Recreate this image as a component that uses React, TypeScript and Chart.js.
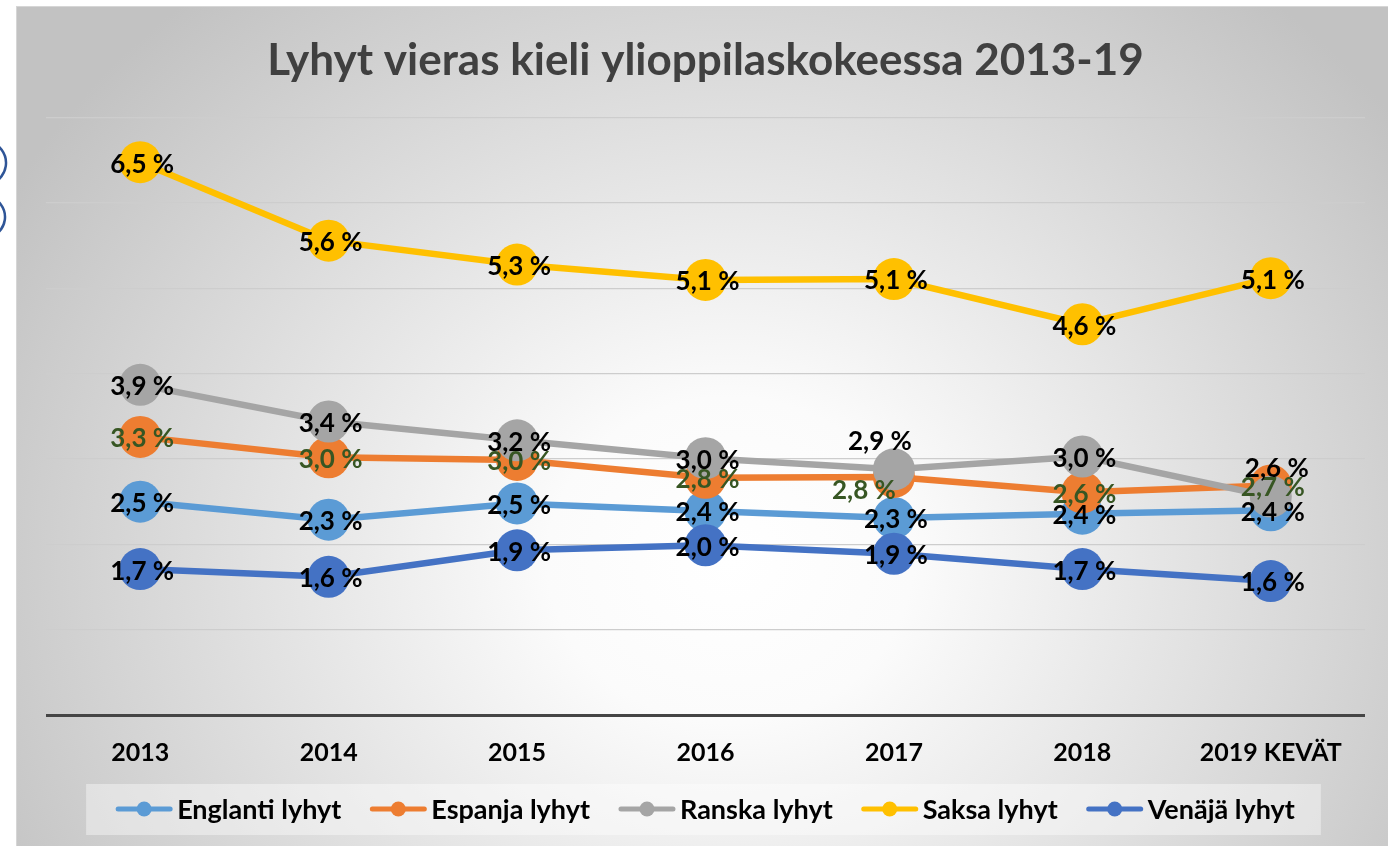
import React, { useEffect, useRef } from 'react';
import { Chart, registerables } from 'chart.js';

Chart.register(...registerables);

// ---------- data ----------
const chartTitle = 'Lyhyt vieras kieli ylioppilaskokeessa 2013-19';
const categories = ['2013', '2014', '2015', '2016', '2017', '2018', '2019 KEVÄT'];
const seriesNames = ['Englanti lyhyt', 'Espanja lyhyt', 'Ranska lyhyt', 'Saksa lyhyt', 'Venäjä lyhyt'];
const englanti = [2.5, 2.29, 2.48, 2.39, 2.31, 2.36, 2.4];
const espanja = [3.26, 3.02, 2.99, 2.78, 2.79, 2.61, 2.69];
const ranska = [3.87, 3.44, 3.22, 3.01, 2.88, 3.03, 2.56];
const saksa = [6.48, 5.56, 5.28, 5.1, 5.11, 4.58, 5.12];
const venaja = [1.71, 1.62, 1.93, 1.99, 1.89, 1.71, 1.57];
const yTicks = [0, 1, 2, 3, 4, 5, 6, 7];

// ---------- styles ----------
const seriesValues = [englanti, espanja, ranska, saksa, venaja];
const COLORS = ['#5B9BD5', '#ED7D31', '#A5A5A5', '#FFC000', '#4472C4'];
const LABEL_COLORS = ['#000000', '#375623', '#000000', '#000000', '#000000'];
const FONT = "Lato, 'Open Sans', sans-serif";
// manual label nudges (series-point) in px, as in the original
const LABEL_SHIFT: Record<string, [number, number]> = {
  '2-4': [-16, -30],
  '2-6': [4, -30],
  '1-4': [-32, 12],
};

const fmt = (v: number) => v.toFixed(1).replace('.', ',') + ' %';

const backgroundPlugin = {
  id: 'bgPlugin',
  beforeDraw(chart: any) {
    const { ctx, width, height } = chart;
    ctx.save();
    ctx.fillStyle = '#ffffff';
    ctx.fillRect(0, 0, width, height);
    const bx = 16;
    const by = 6;
    const cx = 730;
    const cy = 560;
    const rx = 830;
    const ry = 740;
    ctx.save();
    ctx.beginPath();
    ctx.rect(bx, by, width - bx, height - by);
    ctx.clip();
    ctx.translate(cx, cy);
    ctx.scale(1, ry / rx);
    const g = ctx.createRadialGradient(0, 0, 0, 0, 0, rx);
    g.addColorStop(0, '#ffffff');
    g.addColorStop(0.22, '#fbfbfb');
    g.addColorStop(1, '#c2c2c2');
    ctx.fillStyle = g;
    ctx.fillRect(-cx - 50, -(cy + 50) * (rx / ry), width + 100, (height + 100) * (rx / ry));
    ctx.restore();
    ctx.strokeStyle = '#d6d6d6';
    ctx.lineWidth = 1;
    ctx.strokeRect(bx + 0.5, by + 0.5, width - bx, height - by);
    // fragments of neighbouring slide shapes at the left edge
    ctx.strokeStyle = '#2f5597';
    ctx.lineWidth = 2.5;
    ctx.beginPath();
    ctx.arc(-16, 163, 22, -Math.PI / 2.2, Math.PI / 2.2);
    ctx.stroke();
    ctx.beginPath();
    ctx.arc(-16, 217, 21, -Math.PI / 2.2, Math.PI / 2.2);
    ctx.stroke();
    ctx.restore();
  },
};

const labelPlugin = {
  id: 'valueLabels',
  afterDatasetsDraw(chart: any) {
    const { ctx } = chart;
    ctx.save();
    ctx.font = `bold 26px ${FONT}`;
    ctx.textAlign = 'center';
    ctx.textBaseline = 'middle';
    chart.data.datasets.forEach((ds: any, i: number) => {
      const meta = chart.getDatasetMeta(i);
      meta.data.forEach((pt: any, j: number) => {
        const shift = LABEL_SHIFT[`${i}-${j}`] || [0, 0];
        ctx.fillStyle = LABEL_COLORS[i];
        ctx.fillText(fmt(ds.data[j]), pt.x + 2 + shift[0], pt.y + 2 + shift[1]);
      });
    });
    ctx.restore();
  },
};

const legendPlugin = {
  id: 'customLegend',
  afterDraw(chart: any) {
    const { ctx } = chart;
    const ca = chart.chartArea;
    ctx.save();
    ctx.font = `bold 27px ${FONT}`;
    const lineW = 56;
    const gapText = 5;
    const gapItem = 29;
    const widths = seriesNames.map((n) => lineW + gapText + ctx.measureText(n).width);
    const total = widths.reduce((a, b) => a + b, 0) + gapItem * (widths.length - 1);
    let x = (ca.left + ca.right) / 2 - total / 2;
    const y = chart.height - 37;
    ctx.fillStyle = 'rgba(255,255,255,0.4)';
    ctx.fillRect(x - 30, y - 25, total + 56, 51);
    seriesNames.forEach((name, i) => {
      ctx.strokeStyle = COLORS[i];
      ctx.lineWidth = 5;
      ctx.lineCap = 'round';
      ctx.beginPath();
      ctx.moveTo(x + 2, y);
      ctx.lineTo(x + lineW - 2, y);
      ctx.stroke();
      ctx.fillStyle = COLORS[i];
      ctx.beginPath();
      ctx.arc(x + lineW / 2, y, 7.5, 0, Math.PI * 2);
      ctx.fill();
      ctx.fillStyle = '#000000';
      ctx.textAlign = 'left';
      ctx.textBaseline = 'middle';
      ctx.fillText(name, x + lineW + gapText, y + 1);
      x += widths[i] + gapItem;
    });
    ctx.restore();
  },
};

export default function App() {
  const canvasRef = useRef<HTMLCanvasElement | null>(null);

  useEffect(() => {
    if (!canvasRef.current) return;
    const chart = new Chart(canvasRef.current, {
      type: 'line',
      data: {
        labels: categories,
        datasets: seriesValues.map((vals, i) => ({
          label: seriesNames[i],
          data: vals,
          borderColor: COLORS[i],
          backgroundColor: COLORS[i],
          pointBackgroundColor: COLORS[i],
          pointBorderColor: COLORS[i],
          pointBorderWidth: 0,
          pointRadius: 21,
          borderWidth: 6.5,
          tension: 0,
          fill: false,
          clip: false as any,
          order: seriesValues.length - i,
        })),
      },
      options: {
        responsive: false,
        animation: false,
        layout: { padding: { left: 46, right: 23, top: 0, bottom: 55 } },
        plugins: {
          legend: { display: false },
          tooltip: { enabled: false },
          title: {
            display: true,
            text: chartTitle,
            color: '#404040',
            font: { family: FONT, size: 44, weight: 'bold', lineHeight: 1.2 },
            padding: { top: 34, bottom: 31 },
          },
        },
        scales: {
          x: {
            offset: true,
            grid: { display: false, drawTicks: false },
            border: { display: false },
            ticks: {
              color: '#000000',
              padding: 23,
              font: { family: FONT, size: 25, weight: 'bold', lineHeight: 1.2 },
              maxRotation: 0,
              autoSkip: false,
            },
          },
          y: {
            min: 0,
            max: 7,
            afterBuildTicks: (s: any) => {
              s.ticks = yTicks.map((v) => ({ value: v }));
            },
            ticks: { display: false },
            border: { display: false },
            grid: {
              drawTicks: false,
              color: (c: any) => (c.tick && c.tick.value === 0 ? '#454545' : '#cdcdcd'),
              lineWidth: (c: any) => (c.tick && c.tick.value === 0 ? 3 : 1.3),
            },
          },
        },
      },
      plugins: [backgroundPlugin, labelPlugin, legendPlugin],
    });
    return () => chart.destroy();
  }, []);

  return (
    <div style={{ position: 'absolute', left: 0, top: 0, width: 1388, height: 846 }}>
      <canvas ref={canvasRef} width={1388} height={846} style={{ display: 'block' }} />
    </div>
  );
}
